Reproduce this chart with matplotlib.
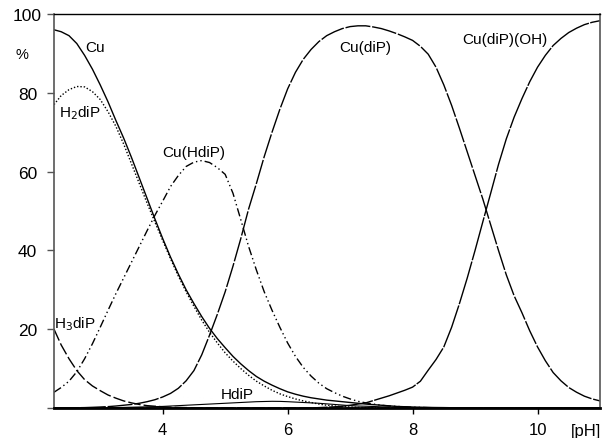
import matplotlib
matplotlib.use("Agg")
import matplotlib.pyplot as plt

plt.rcParams['font.family'] = ['Liberation Sans', 'DejaVu Sans']

ph = [2.26, 2.375, 2.5, 2.625, 2.75, 2.875, 3.0, 3.125, 3.25, 3.375, 3.5, 3.625,
      3.75, 3.875, 4.0, 4.125, 4.25, 4.375, 4.5, 4.625, 4.75, 4.875, 5.0, 5.125,
      5.25, 5.375, 5.5, 5.625, 5.75, 5.875, 6.0, 6.125, 6.25, 6.375, 6.5, 6.625,
      6.75, 6.875, 7.0, 7.125, 7.25, 7.375, 7.5, 7.625, 7.75, 7.875, 8.0, 8.125,
      8.25, 8.375, 8.5, 8.625, 8.75, 8.875, 9.0, 9.125, 9.25, 9.375, 9.5, 9.625,
      9.75, 9.875, 10.0, 10.125, 10.25, 10.375, 10.5, 10.625, 10.75, 10.875, 11.0]

cu = [96.0, 95.5, 94.5, 92.5, 89.5, 86.0, 82.0, 77.7, 73.0, 68.5, 63.6, 58.4,
      53.2, 48.0, 43.0, 38.3, 34.0, 30.0, 26.5, 23.2, 20.2, 17.6, 15.3, 13.1,
      11.2, 9.5, 8.0, 6.8, 5.8, 4.9, 4.1, 3.5, 3.0, 2.6, 2.3, 2.0,
      1.8, 1.6, 1.4, 1.2, 1.0, 0.85, 0.7, 0.55, 0.4, 0.32, 0.25, 0.2,
      0.15, 0.12, 0.1, 0.07, 0.05, 0.02, 0.0, 0.0, 0.0, 0.0, 0.0, 0.0,
      0.0, 0.0, 0.0, 0.0, 0.0, 0.0, 0.0, 0.0, 0.0, 0.0, 0.0]

h2dip = [77.0, 79.3, 80.8, 81.6, 81.5, 80.3, 78.3, 75.2, 71.5, 67.0, 62.0, 57.0,
         52.0, 47.2, 42.5, 37.9, 33.5, 29.5, 25.8, 22.3, 19.2, 16.5, 14.0, 11.9,
         10.0, 8.3, 6.8, 5.6, 4.5, 3.6, 2.9, 2.3, 1.8, 1.4, 1.0, 0.7,
         0.5, 0.35, 0.25, 0.15, 0.1, 0.05, 0.0, 0.0, 0.0, 0.0, 0.0, 0.0,
         0.0, 0.0, 0.0, 0.0, 0.0, 0.0, 0.0, 0.0, 0.0, 0.0, 0.0, 0.0,
         0.0, 0.0, 0.0, 0.0, 0.0, 0.0, 0.0, 0.0, 0.0, 0.0, 0.0]

h3dip = [20.0, 16.0, 12.5, 9.5, 7.2, 5.6, 4.4, 3.3, 2.5, 1.8, 1.3, 0.9,
         0.6, 0.45, 0.3, 0.2, 0.15, 0.1, 0.05, 0.0, 0.0, 0.0, 0.0, 0.0,
         0.0, 0.0, 0.0, 0.0, 0.0, 0.0, 0.0, 0.0, 0.0, 0.0, 0.0, 0.0,
         0.0, 0.0, 0.0, 0.0, 0.0, 0.0, 0.0, 0.0, 0.0, 0.0, 0.0, 0.0,
         0.0, 0.0, 0.0, 0.0, 0.0, 0.0, 0.0, 0.0, 0.0, 0.0, 0.0, 0.0,
         0.0, 0.0, 0.0, 0.0, 0.0, 0.0, 0.0, 0.0, 0.0, 0.0, 0.0]

hdip = [0.0, 0.0, 0.0, 0.0, 0.01, 0.02, 0.05, 0.07, 0.1, 0.15, 0.2, 0.25,
        0.3, 0.35, 0.4, 0.5, 0.6, 0.7, 0.8, 0.9, 1.0, 1.1, 1.2, 1.3,
        1.4, 1.5, 1.6, 1.65, 1.7, 1.68, 1.6, 1.5, 1.4, 1.3, 1.2, 1.05,
        0.9, 0.75, 0.6, 0.5, 0.45, 0.38, 0.3, 0.25, 0.2, 0.15, 0.1, 0.07,
        0.05, 0.02, 0.0, 0.0, 0.0, 0.0, 0.0, 0.0, 0.0, 0.0, 0.0, 0.0,
        0.0, 0.0, 0.0, 0.0, 0.0, 0.0, 0.0, 0.0, 0.0, 0.0, 0.0]

cu_hdip = [4.0, 5.2, 6.8, 9.2, 12.5, 16.3, 20.5, 24.8, 29.0, 33.0, 37.0, 41.0,
           45.0, 48.9, 52.5, 56.2, 59.0, 61.3, 62.4, 62.8, 62.3, 61.0, 59.3, 54.5,
           47.8, 41.0, 35.0, 29.5, 24.8, 20.5, 16.5, 13.1, 10.3, 8.1, 6.3, 4.9,
           3.9, 3.0, 2.3, 1.7, 1.3, 1.0, 0.7, 0.5, 0.4, 0.3, 0.2, 0.15,
           0.1, 0.05, 0.0, 0.0, 0.0, 0.0, 0.0, 0.0, 0.0, 0.0, 0.0, 0.0,
           0.0, 0.0, 0.0, 0.0, 0.0, 0.0, 0.0, 0.0, 0.0, 0.0, 0.0]

cu_dip = [0.0, 0.02, 0.05, 0.07, 0.1, 0.17, 0.25, 0.35, 0.5, 0.7, 0.9, 1.2,
          1.6, 2.1, 2.8, 3.7, 5.0, 6.9, 9.5, 13.5, 18.5, 23.8, 29.5, 36.0,
          43.0, 50.5, 57.0, 63.8, 70.0, 75.8, 81.0, 85.2, 88.5, 91.0, 93.0, 94.5,
          95.5, 96.3, 96.8, 97.0, 97.0, 96.7, 96.3, 95.7, 95.0, 94.2, 93.3, 91.8,
          89.8, 86.5, 82.0, 76.8, 71.0, 65.0, 59.0, 53.0, 46.5, 40.0, 33.8, 28.5,
          24.2, 19.6, 15.5, 12.0, 9.0, 6.9, 5.2, 4.0, 3.0, 2.3, 1.8]

cu_dip_oh = [0.0, 0.0, 0.0, 0.0, 0.0, 0.0, 0.0, 0.0, 0.0, 0.0, 0.0, 0.0,
             0.0, 0.0, 0.0, 0.0, 0.0, 0.0, 0.0, 0.0, 0.0, 0.0, 0.0, 0.0,
             0.0, 0.0, 0.0, 0.0, 0.0, 0.0, 0.0, 0.0, 0.0, 0.0, 0.1, 0.2,
             0.3, 0.45, 0.7, 1.0, 1.3, 1.9, 2.5, 3.1, 3.8, 4.5, 5.3, 6.8,
             9.6, 12.3, 15.5, 20.5, 26.5, 33.0, 40.0, 47.3, 54.5, 61.8, 68.3, 73.8,
             78.5, 82.8, 86.5, 89.5, 92.0, 93.8, 95.3, 96.4, 97.3, 97.9, 98.3]

xticks = [4, 6, 8, 10]
yticks = [0, 20, 40, 60, 80, 100]
yticklabels = ['', '20', '40', '60', '80', '100']

fig = plt.figure(figsize=(6.04, 4.39), dpi=100)
ax = fig.add_axes([54 / 604, 1 - 409 / 439, 546 / 604, 394 / 439])

lw = 1.0
ax.plot(ph, cu, color='black', lw=lw, ls='-')
ax.plot(ph, h2dip, color='black', lw=lw, ls=(0, (1, 1.4)))
ax.plot(ph, h3dip, color='black', lw=lw, ls=(0, (9, 2.2)))
ax.plot(ph, hdip, color='black', lw=0.8, ls='-')
ax.plot(ph, cu_hdip, color='black', lw=lw, ls=(0, (6, 2.2, 1, 2.2, 1, 2.2)))
ax.plot(ph, cu_dip, color='black', lw=lw, ls=(0, (18, 1.3)))
ax.plot(ph, cu_dip_oh, color='black', lw=lw, ls=(0, (32, 1.0)))

ax.set_xlim(2.26, 11.0)
ax.set_ylim(0, 100)
ax.set_xticks(xticks)
ax.set_xticklabels([str(t) for t in xticks])
ax.set_yticks(yticks)
ax.set_yticklabels(yticklabels)

ax.tick_params(axis='x', direction='out', length=4, width=1, pad=6, labelsize=12, colors='black')
ax.tick_params(axis='y', direction='out', length=5, width=1, pad=14, labelsize=12.5,
               color='#555555', labelcolor='black')
for lbl in ax.get_yticklabels():
    lbl.set_horizontalalignment('center')

ax.spines['left'].set_color('#555555')
ax.spines['left'].set_linewidth(1.2)
ax.spines['right'].set_color('#555555')
ax.spines['right'].set_linewidth(1.2)
ax.spines['top'].set_color('black')
ax.spines['top'].set_linewidth(1.0)
ax.spines['bottom'].set_color('black')
ax.spines['bottom'].set_linewidth(2.0)

fs = 11
ax.text(2.91, 91.5, 'Cu', fontsize=fs, ha='center', va='center')
ax.text(2.68, 75.0, 'H$_2$diP', fontsize=fs, ha='center', va='center')
ax.text(2.60, 21.6, 'H$_3$diP', fontsize=fs, ha='center', va='center')
ax.text(4.50, 65.1, 'Cu(HdiP)', fontsize=fs, ha='center', va='center')
ax.text(7.25, 91.5, 'Cu(diP)', fontsize=fs, ha='center', va='center')
ax.text(9.48, 93.7, 'Cu(diP)(OH)', fontsize=fs, ha='center', va='center')
ax.text(5.19, 3.6, 'HdiP', fontsize=fs, ha='center', va='center')
ax.text(1.75, 89.8, '%', fontsize=10.5, ha='center', va='center', clip_on=False)
ax.text(10.77, -5.8, '[pH]', fontsize=12, ha='center', va='center', clip_on=False)

fig.savefig('out.png', dpi=100)
